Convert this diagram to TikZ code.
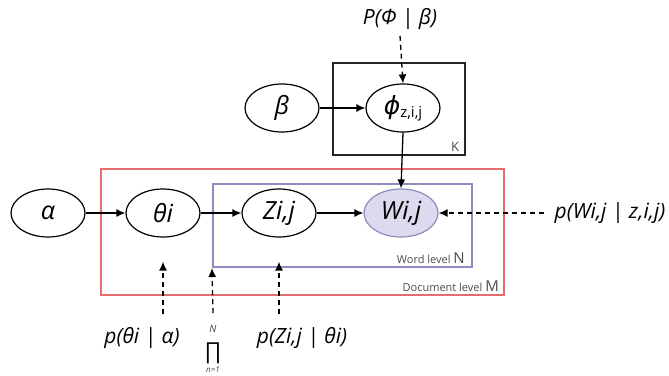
\documentclass[tikz,border=0pt]{standalone}
\usepackage{fontspec}
\setmainfont{Open Sans}
\newfontfamily\djv{DejaVu Sans}
\usetikzlibrary{arrows.meta,shapes.geometric,calc}
\definecolor{docred}{RGB}{228,110,110}
\definecolor{wordblue}{RGB}{140,140,190}
\definecolor{wfill}{RGB}{220,218,238}
\tikzset{
  var/.style={ellipse, draw=black, line width=1.2pt, minimum width=74pt, minimum height=48pt, inner sep=0pt, font=\fontsize{25}{28}\selectfont\itshape},
  lab/.style={font=\fontsize{21}{24}\selectfont\itshape, inner sep=1pt},
  arr/.style={line width=1.3pt, -{Latex[length=9pt,width=8pt]}},
  darr/.style={line width=1.3pt, dash pattern=on 5pt off 4pt, -{Latex[length=9pt,width=8pt]}},
  plate/.style={rectangle, inner sep=0pt, fill=none}
}
\begin{document}
\begin{tikzpicture}[x=1pt,y=-1pt]
\useasboundingbox (0,0) rectangle (669,375);
% plates
\node[plate, draw=docred, line width=2pt, minimum width=403pt, minimum height=126pt] (docbox) at (302.5,232) {};
\node[plate, draw=wordblue, line width=2pt, minimum width=259pt, minimum height=83pt] (wordbox) at (342.5,225.5) {};
\node[plate, draw=black!85, line width=2.4pt, minimum width=132pt, minimum height=92pt] (kbox) at (399,109) {};
\node[anchor=south east, font=\fontsize{13}{15}\selectfont, text=black!70, inner sep=0pt] (klab) at ([xshift=-7pt,yshift=5pt]kbox.south east) {K};
\node[anchor=south east, font=\fontsize{11}{13}\selectfont, text=black!70, inner sep=0pt] (wlab) at ([xshift=-8pt,yshift=4pt]wordbox.south east) {Word level {\fontsize{15}{15}\selectfont N}};
\node[anchor=south east, font=\fontsize{11}{13}\selectfont, text=black!70, inner sep=0pt] (dlab) at ([xshift=-6pt,yshift=4pt]docbox.south east) {Document level {\fontsize{15}{15}\selectfont M}};
% variables
\node[var, fill=white] (alpha) at (48,213) {α};
\node[var, fill=white] (theta) at (163,213) {θi};
\node[var, fill=white] (z) at (279,213) {Zi,j};
\node[var, fill=wfill, draw=wordblue] (w) at (401,213) {Wi,j};
\node[var, fill=white] (beta) at (282,108) {β};
\node[var, fill=white] (phi) at (403,108) {{\djv\itshape ϕ}\raisebox{-0.25ex}{\upshape\fontsize{15}{15}\selectfont z,i,j}};
% solid arrows
\draw[arr] (alpha) -- (theta);
\draw[arr] (theta) -- (z);
\draw[arr] (z) -- (w);
\draw[arr] (beta) -- (phi);
\draw[arr] (phi.south) -- (w.north);
% labels and dashed arrows
\node[lab] (pphi) at (400,19) {P(Φ | β)};
\draw[darr] ([yshift=-5pt]pphi.south) -- (phi.north);
\node[lab] (ptheta) at (142,338) {p(θi | α)};
\draw[darr, shorten >=24pt] ($(theta.south |- ptheta.north)+(0,-12)$) -- (theta.south);
\node[lab] (pz) at (302,338) {p(Zi,j | θi)};
\draw[darr, shorten >=24pt] ($(z.south |- pz.north)+(0,-12)$) -- (z.south);
\node[lab] (pw) at (610,213) {p(Wi,j | z,i,j)};
\draw[darr, shorten <=10pt] (pw.west) -- (w.east);
\node[inner sep=0pt, font=\fontsize{10}{10}\selectfont\itshape, text=black!75] (nN) at (213,329) {N};
\node[inner sep=0pt, font=\fontsize{22}{22}\selectfont] (prod) at (213,353) {∏};
\node[inner sep=0pt, font=\fontsize{8}{8}\selectfont\itshape, text=black!75] (n1) at (213,370) {n=1};
\draw[darr] ([yshift=12pt]nN.north) -- (wordbox.south west);
\end{tikzpicture}
\end{document}
